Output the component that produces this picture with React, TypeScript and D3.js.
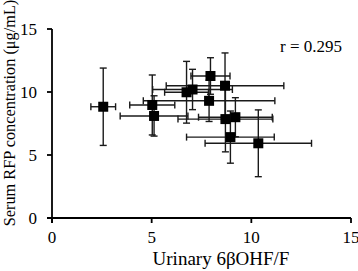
import React from "react";
import * as d3 from "d3";

// Data
const xValues = [2.57, 5.03, 5.12, 6.75, 7.05, 7.95, 7.88, 8.68, 8.7, 9.2, 8.95, 10.35];
const yValues = [8.83, 8.97, 8.1, 9.98, 10.2, 11.27, 9.3, 10.5, 7.85, 8.0, 6.42, 5.93];
const xErrors = [0.62, 1.13, 1.7, 1.1, 2.0, 0.98, 3.3, 2.95, 2.38, 1.85, 2.2, 2.67];
const yErrors = [3.07, 2.38, 1.6, 2.45, 1.6, 1.45, 1.64, 2.6, 2.6, 1.55, 2.07, 2.65];
const xTicks = [0, 5, 10, 15];
const yTicks = [0, 5, 10, 15];
const xLabel = "Urinary 6βOHF/F";
const yLabel = "Serum RFP concentration (μg/mL)";
const annotation = "r = 0.295";

const W = 358;
const H = 271;
const font = "'Liberation Serif', 'Times New Roman', serif";

export default function App() {
  const x = d3.scaleLinear().domain([0, 15]).range([52, 351]);
  const y = d3.scaleLinear().domain([0, 15]).range([218, 29]);
  const cap = 3.5;
  const sq = 10;

  return (
    <svg
      width={W}
      height={H}
      style={{ position: "absolute", left: 0, top: 0, background: "#fff" }}
      fontFamily={font}
    >
      {/* error bars */}
      {xValues.map((xv, i) => {
        const cx = x(xv);
        const cy = y(yValues[i]);
        const x0 = x(xv - xErrors[i]);
        const x1 = x(xv + xErrors[i]);
        const y0 = y(yValues[i] - yErrors[i]);
        const y1 = y(yValues[i] + yErrors[i]);
        return (
          <g key={"e" + i} stroke="#1a1a1a" strokeWidth={1.4} fill="none">
            <line x1={x0} x2={x1} y1={cy} y2={cy} />
            <line x1={x0} x2={x0} y1={cy - cap} y2={cy + cap} />
            <line x1={x1} x2={x1} y1={cy - cap} y2={cy + cap} />
            <line x1={cx} x2={cx} y1={y0} y2={y1} />
            <line x1={cx - cap} x2={cx + cap} y1={y0} y2={y0} />
            <line x1={cx - cap} x2={cx + cap} y1={y1} y2={y1} />
          </g>
        );
      })}
      {/* markers */}
      {xValues.map((xv, i) => (
        <rect
          key={"m" + i}
          x={x(xv) - sq / 2}
          y={y(yValues[i]) - sq / 2}
          width={sq}
          height={sq}
          fill="#000"
        />
      ))}
      {/* axes */}
      <g stroke="#000" strokeWidth={1.8}>
        <line x1={x(0)} x2={x(0)} y1={y(15)} y2={y(0) + 5} />
        <line x1={x(0) - 5} x2={x(15)} y1={y(0)} y2={y(0)} />
        {xTicks.map((t) => (
          <line key={"xt" + t} x1={x(t)} x2={x(t)} y1={y(0)} y2={y(0) + 5} />
        ))}
        {yTicks.map((t) => (
          <line key={"yt" + t} x1={x(0) - 5} x2={x(0)} y1={y(t)} y2={y(t)} />
        ))}
      </g>
      {xTicks.map((t) => (
        <text key={"xl" + t} x={x(t)} y={243} fontSize={17} textAnchor="middle" fill="#000">
          {t}
        </text>
      ))}
      {yTicks.map((t) => (
        <text key={"yl" + t} x={37} y={y(t) + 6} fontSize={17} textAnchor="end" fill="#000">
          {t}
        </text>
      ))}
      <text x={221} y={265} fontSize={19} textAnchor="middle" fill="#000">
        {xLabel}
      </text>
      <text
        transform={`translate(15,${113}) rotate(-90)`}
        fontSize={16.3}
        textAnchor="middle"
        fill="#000"
      >
        {yLabel}
      </text>
      <text x={342} y={52} fontSize={17} textAnchor="end" fill="#000">
        {annotation}
      </text>
    </svg>
  );
}
